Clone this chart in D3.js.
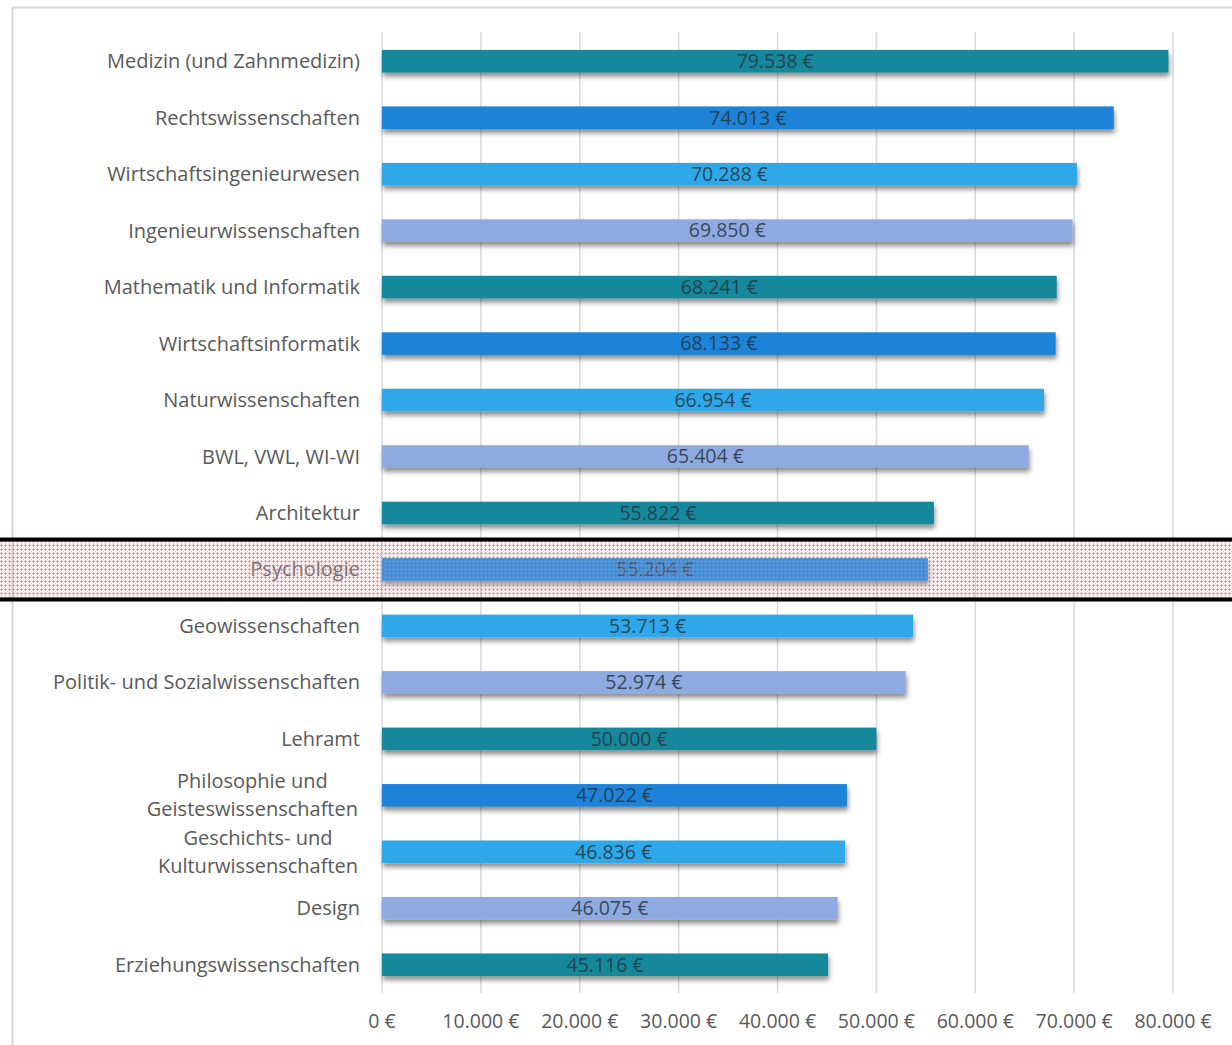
<!DOCTYPE html>
<html>
<head>
<meta charset="utf-8">
<script src="https://cdn.jsdelivr.net/npm/d3@7"></script>
<style>
  body { margin: 0; background: #fff; }
  svg { display: block; font-family: "Open Sans", Lato, sans-serif; }
</style>
</head>
<body>
<div id="chart"></div>
<script>
// Studienfächer und Einstiegsgehälter (in €)
const categories = [
  "Medizin (und Zahnmedizin)", "Rechtswissenschaften", "Wirtschaftsingenieurwesen",
  "Ingenieurwissenschaften", "Mathematik und Informatik", "Wirtschaftsinformatik",
  "Naturwissenschaften", "BWL, VWL, WI-WI", "Architektur", "Psychologie",
  "Geowissenschaften", "Politik- und Sozialwissenschaften", "Lehramt",
  "Philosophie und|Geisteswissenschaften", "Geschichts- und|Kulturwissenschaften",
  "Design", "Erziehungswissenschaften"
];
const salaries = [79538, 74013, 70288, 69850, 68241, 68133, 66954, 65404, 55822,
  55204, 53713, 52974, 50000, 47022, 46836, 46075, 45116];
const tickValues = [0, 10000, 20000, 30000, 40000, 50000, 60000, 70000, 80000];
const highlighted = "Psychologie";

const W = 1232, H = 1045;
const colors = ["#15889c", "#1f83d8", "#2ea8e8", "#8eaae0"];
const fmt = v => d3.format(",")(v).replace(/,/g, ".") + " €";

const svg = d3.select("#chart").append("svg").attr("width", W).attr("height", H);

// Schatten und Punktmuster
const defs = svg.append("defs");
const shadow = defs.append("filter").attr("id", "shadow")
  .attr("x", "-5%").attr("y", "-30%").attr("width", "110%").attr("height", "190%");
shadow.append("feDropShadow").attr("dx", 1).attr("dy", 4).attr("stdDeviation", 2.5)
  .attr("flood-color", "#000").attr("flood-opacity", 0.45);
const pat = defs.append("pattern").attr("id", "dots")
  .attr("width", 4).attr("height", 4).attr("patternUnits", "userSpaceOnUse");
pat.append("rect").attr("width", 4).attr("height", 4).attr("fill", "#f7a8b0").attr("fill-opacity", 0.2);
pat.append("rect").attr("x", 0).attr("y", 1).attr("width", 3).attr("height", 1).attr("fill", "#f0707c").attr("fill-opacity", 0.6);
pat.append("rect").attr("x", 1).attr("y", 0).attr("width", 1).attr("height", 3).attr("fill", "#f0707c").attr("fill-opacity", 0.6);

// Rahmen
svg.append("path").attr("d", `M12.5,${H} V7.5 H${W}`)
  .attr("fill", "none").attr("stroke", "#d6d6d6").attr("stroke-width", 2);

const x = d3.scaleLinear().domain([0, 80000]).range([382, 1173]);
const y = d3.scaleBand().domain(categories).range([33, 993]).paddingInner(0.6).paddingOuter(0.3);

// Gitterlinien
svg.append("g").selectAll("line").data(tickValues).join("line")
  .attr("x1", d => x(d)).attr("x2", d => x(d))
  .attr("y1", 32).attr("y2", 993)
  .attr("stroke", "#d9d9d9").attr("stroke-width", 1.5);

// Balken
svg.append("g").selectAll("rect").data(categories).join("rect")
  .attr("x", x(0)).attr("y", d => y(d))
  .attr("width", (d, i) => x(salaries[i]) - x(0))
  .attr("height", y.bandwidth())
  .attr("fill", (d, i) => colors[i % 4])
  .attr("filter", "url(#shadow)");

// Werte in den Balken
svg.append("g").selectAll("text").data(categories).join("text")
  .attr("x", (d, i) => (x(0) + x(salaries[i])) / 2)
  .attr("y", d => y(d) + y.bandwidth() / 2)
  .attr("dy", "0.35em").attr("text-anchor", "middle")
  .attr("font-size", 19.5).attr("fill", "#26343f").attr("fill-opacity", 0.85)
  .text((d, i) => fmt(salaries[i]));

// Kategorienbeschriftung
const labels = svg.append("g").selectAll("text").data(categories).join("text")
  .attr("font-size", 20).attr("fill", "#595959");
labels.each(function(d) {
  const t = d3.select(this);
  const lines = d.split("|");
  const cy = y(d) + y.bandwidth() / 2;
  if (lines.length == 1) {
    t.attr("x", 360).attr("y", cy).attr("dy", "0.35em").attr("text-anchor", "end").text(d);
  } else {
    // zweizeilig: zentriert unter der längsten Zeile
    lines.forEach((l, k) => t.append("tspan").attr("y", cy + (k - 0.5) * 28).attr("dy", "0.35em").text(l));
    let wmax = 0;
    t.selectAll("tspan").each(function() { wmax = Math.max(wmax, this.getComputedTextLength()); });
    t.attr("text-anchor", "middle").selectAll("tspan").attr("x", 358 - wmax / 2);
  }
});

// x-Achse
svg.append("g").selectAll("text").data(tickValues).join("text")
  .attr("x", d => x(d)).attr("y", 1021).attr("dy", "0.35em")
  .attr("text-anchor", "middle").attr("font-size", 19.5).attr("fill", "#595959")
  .text(fmt);

// Hervorhebung Psychologie
const hy = y(highlighted) + y.bandwidth() / 2;
svg.append("rect").attr("x", 0).attr("y", hy - 30).attr("width", W).attr("height", 60)
  .attr("fill", "url(#dots)");
svg.append("g").selectAll("line").data([-30, 30]).join("line")
  .attr("x1", 0).attr("x2", W).attr("y1", d => hy + d).attr("y2", d => hy + d)
  .attr("stroke", "#000").attr("stroke-width", 4);
</script>
</body>
</html>
